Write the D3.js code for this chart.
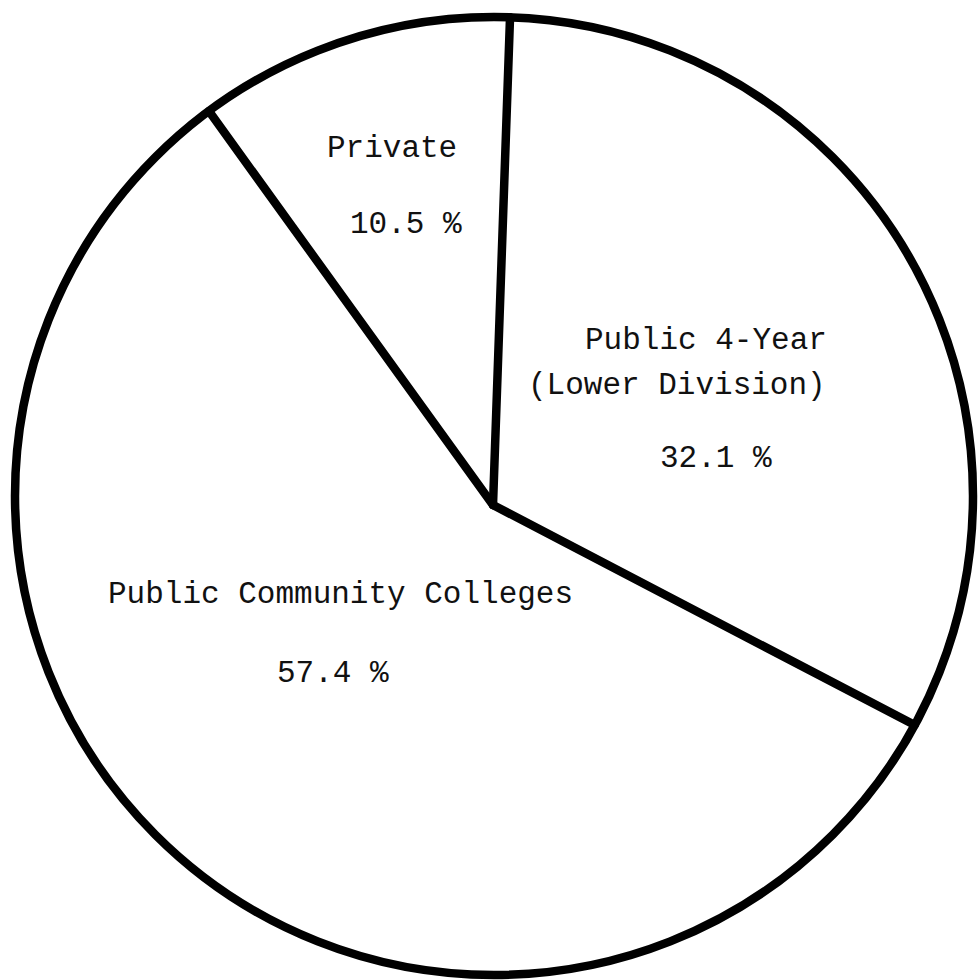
<!DOCTYPE html>
<html>
<head>
<meta charset="utf-8">
<script src="https://cdn.jsdelivr.net/npm/d3@7"></script>
<style>
  html, body { margin: 0; padding: 0; background: #fff; }
  svg { display: block; }
  text { font-family: "Liberation Mono", "Courier New", monospace; fill: #111; }
</style>
</head>
<body>
<svg id="chart" width="978" height="980"></svg>
<script>
// ---- data ----
const categories = ["Public 4-Year (Lower Division)", "Public Community Colleges", "Private"];
const shares = [32.1, 57.4, 10.5];
const labelLines = [["Public 4-Year", "(Lower Division)"], ["Public Community Colleges"], ["Private"]];
const valueLabels = ["32.1 %", "57.4 %", "10.5 %"];

// ---- layout ----
const W = 978, H = 980;
const cx = 494, cy = 496, R = 479;      // outer circle
const hx = 493, hy = 505;               // hub where the dividing lines meet
const svg = d3.select("#chart");

const pie = d3.pie().sort(null).value(d => d)
  .startAngle(2 * Math.PI / 180)
  .endAngle(2 * Math.PI / 180 + 2 * Math.PI);
const arcs = pie(shares);

// outer circle
svg.append("circle")
  .attr("cx", cx).attr("cy", cy).attr("r", R)
  .attr("fill", "#fff").attr("stroke", "#000").attr("stroke-width", 8.5);

// dividing spokes, from hub to circle along each slice boundary
function rimPoint(angle) {
  const dx = Math.sin(angle), dy = -Math.cos(angle);
  const ox = hx - cx, oy = hy - cy;
  const b = ox * dx + oy * dy;
  const c = ox * ox + oy * oy - R * R;
  const t = -b + Math.sqrt(b * b - c);
  return [hx + dx * t, hy + dy * t];
}
svg.append("g").selectAll("line")
  .data(arcs)
  .join("line")
  .attr("x1", hx).attr("y1", hy)
  .attr("x2", d => rimPoint(d.startAngle)[0])
  .attr("y2", d => rimPoint(d.startAngle)[1])
  .attr("stroke", "#000").attr("stroke-width", 8.5)
  .attr("stroke-linecap", "round");

// labels (typewritten, left-aligned)
const labelPos = [
  { lines: [[585, 349], [528, 394]], value: [660, 467] },
  { lines: [[108, 603]], value: [277, 682] },
  { lines: [[327, 157]], value: [350, 233] }
];
const fs = 31;
const g = svg.append("g");
arcs.forEach((a, i) => {
  labelLines[i].forEach((t, j) => {
    g.append("text")
      .attr("x", labelPos[i].lines[j][0]).attr("y", labelPos[i].lines[j][1])
      .attr("font-size", fs)
      .text(t);
  });
  g.append("text")
    .attr("x", labelPos[i].value[0]).attr("y", labelPos[i].value[1])
    .attr("font-size", fs)
    .text(valueLabels[i]);
});
</script>
</body>
</html>
